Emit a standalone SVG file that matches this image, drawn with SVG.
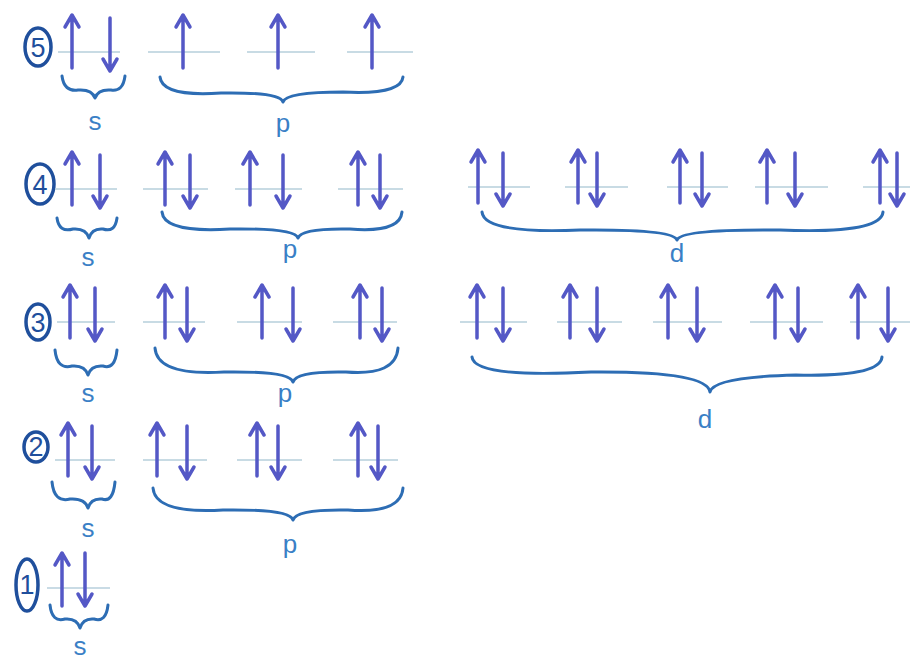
<svg xmlns="http://www.w3.org/2000/svg" xmlns:xlink="http://www.w3.org/1999/xlink" width="915" height="660" viewBox="0 0 915 660">
<style>
.bg{fill:#ffffff}
.ln{stroke:#b7cfdc;stroke-width:1.5;fill:none}
.ar{stroke:#5458c6;stroke-width:3.5;fill:none;stroke-linecap:round;stroke-linejoin:round}
.br{stroke:#2d6db4;stroke-width:3;fill:none;stroke-linecap:round;stroke-linejoin:round}
.lb{fill:#3a80c6;font-family:"Liberation Sans",Arial,sans-serif;font-size:26px;text-anchor:middle}
.cc{stroke:#1f4f9c;stroke-width:3.5;fill:none}
.cn{fill:#1f4f9c;font-family:"Liberation Sans",Arial,sans-serif;font-size:27px;text-anchor:middle}
</style>
<defs>
<path id="up" d="M0,16 V-35 M-7,-25 L0,-37 L7,-25"/>
<path id="dn" d="M0,-34 V18 M-7,7 L0,19 L7,7"/>
</defs>
<rect class="bg" x="0" y="0" width="915" height="660"/>

<g id="shell5">
<ellipse class="cc" cx="38" cy="47" rx="13" ry="19"/>
<text class="cn" x="38" y="57">5</text>
<g class="ln"><path d="M58,52H120M148,52H220M247,52H315M347,52H413"/></g>
<g class="ar">
<use href="#up" x="72" y="52"/><use href="#dn" x="110" y="52"/>
<use href="#up" x="183" y="52"/><use href="#up" x="278" y="52"/><use href="#up" x="372" y="52"/>
</g>
<g class="br">
<path d="M62,76 Q64,92 78,90 Q92,89 95,98 Q98,89 111,90 Q123,92 125,76"/>
<path d="M160,77 Q162,97 221,93 Q280,92 283,102 Q286,92 343,92 Q401,95 403,77"/>
</g>
<text class="lb" x="95" y="130">s</text>
<text class="lb" x="283" y="132">p</text>
</g>

<g id="shell4">
<ellipse class="cc" cx="40" cy="184" rx="14" ry="20"/>
<text class="cn" x="40" y="194">4</text>
<g class="ln"><path d="M55,189H117M143,189H208M235,189H302M338,189H403M468,187H530M565,187H628M667,187H728M755,187H828M863,187H910"/></g>
<g class="ar">
<use href="#up" x="72" y="189"/><use href="#dn" x="100" y="189"/>
<use href="#up" x="165" y="189"/><use href="#dn" x="190" y="189"/>
<use href="#up" x="250" y="189"/><use href="#dn" x="283" y="189"/>
<use href="#up" x="358" y="189"/><use href="#dn" x="380" y="189"/>
<use href="#up" x="478" y="187"/><use href="#dn" x="503" y="187"/>
<use href="#up" x="578" y="187"/><use href="#dn" x="597" y="187"/>
<use href="#up" x="680" y="187"/><use href="#dn" x="702" y="187"/>
<use href="#up" x="767" y="187"/><use href="#dn" x="795" y="187"/>
<use href="#up" x="880" y="187"/><use href="#dn" x="897" y="187"/>
</g>
<g class="br">
<path d="M57,218 Q59,233 73,229 Q86,228 89,238 Q92,228 103,229 Q115,233 117,218"/>
<path d="M162,212 Q164,233 230,229 Q295,228 298,238 Q301,228 350,229 Q400,233 402,212"/>
<path d="M482,212 Q484,234 580,230 Q674,229 677,240 Q680,229 780,230 Q881,234 883,212"/>
</g>
<text class="lb" x="88" y="266">s</text>
<text class="lb" x="290" y="258">p</text>
<text class="lb" x="677" y="262">d</text>
</g>

<g id="shell3">
<ellipse class="cc" cx="38" cy="322" rx="12" ry="18"/>
<text class="cn" x="38" y="332">3</text>
<g class="ln"><path d="M57,322H115M143,322H205M237,322H302M333,322H397M460,322H527M557,322H622M653,322H722M750,322H823M850,322H910"/></g>
<g class="ar">
<use href="#up" x="70" y="322"/><use href="#dn" x="95" y="322"/>
<use href="#up" x="165" y="322"/><use href="#dn" x="187" y="322"/>
<use href="#up" x="262" y="322"/><use href="#dn" x="293" y="322"/>
<use href="#up" x="360" y="322"/><use href="#dn" x="382" y="322"/>
<use href="#up" x="477" y="322"/><use href="#dn" x="503" y="322"/>
<use href="#up" x="570" y="322"/><use href="#dn" x="597" y="322"/>
<use href="#up" x="668" y="322"/><use href="#dn" x="697" y="322"/>
<use href="#up" x="775" y="322"/><use href="#dn" x="798" y="322"/>
<use href="#up" x="858" y="322"/><use href="#dn" x="888" y="322"/>
</g>
<g class="br">
<path d="M55,350 Q57,370 72,366 Q85,365 88,375 Q91,365 103,366 Q115,370 117,350"/>
<path d="M155,348 Q157,376 224,372 Q290,371 293,382 Q296,371 346,372 Q396,376 398,348"/>
<path d="M472,357 Q474,378 591,372 Q707,371 710,392 Q713,377 796,375 Q880,377 882,357"/>
</g>
<text class="lb" x="88" y="402">s</text>
<text class="lb" x="285" y="402">p</text>
<text class="lb" x="705" y="428">d</text>
</g>

<g id="shell2">
<ellipse class="cc" cx="36" cy="447" rx="12" ry="15"/>
<text class="cn" x="36" y="456">2</text>
<g class="ln"><path d="M55,460H115M143,460H207M237,460H302M333,460H398"/></g>
<g class="ar">
<use href="#up" x="68" y="460"/><use href="#dn" x="92" y="460"/>
<use href="#up" x="157" y="460"/><use href="#dn" x="187" y="460"/>
<use href="#up" x="257" y="460"/><use href="#dn" x="278" y="460"/>
<use href="#up" x="358" y="460"/><use href="#dn" x="378" y="460"/>
</g>
<g class="br">
<path d="M52,482 Q54,503 70,499 Q85,498 88,508 Q91,498 102,499 Q113,503 115,482"/>
<path d="M153,488 Q155,514 223,510 Q290,509 293,520 Q296,509 348,510 Q401,514 403,488"/>
</g>
<text class="lb" x="88" y="537">s</text>
<text class="lb" x="290" y="553">p</text>
</g>

<g id="shell1">
<ellipse class="cc" cx="27" cy="585" rx="11" ry="26"/>
<text class="cn" x="27" y="594">1</text>
<g class="ln"><path d="M47,588H110"/></g>
<g class="ar">
<use href="#up" x="62" y="590"/><use href="#dn" x="85" y="587"/>
</g>
<g class="br">
<path d="M50,605 Q52,623 65,619 Q77,618 80,628 Q83,618 94,619 Q106,623 108,605"/>
</g>
<text class="lb" x="80" y="655">s</text>
</g>
</svg>
